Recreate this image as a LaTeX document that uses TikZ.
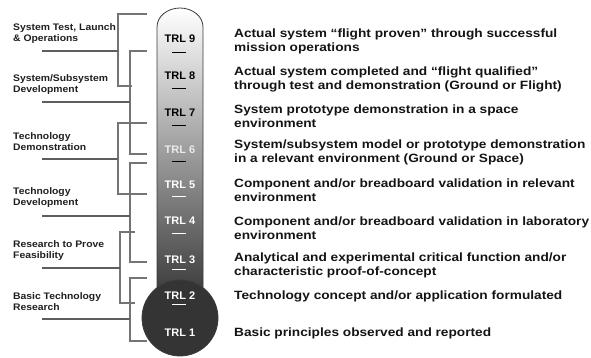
\documentclass[tikz,border=0pt]{standalone}
\usepackage{fontspec}
\setmainfont{Liberation Sans}
\newfontfamily\descfont[FakeStretch=1.14]{Liberation Sans}
\newfontfamily\phasefont[FakeStretch=1.09]{Liberation Sans}
\usepackage{xcolor}
\usepackage{tikz}
\usetikzlibrary{positioning, calc}
\definecolor{bracketgray}{HTML}{747474}
\definecolor{leadgray}{HTML}{5E5E5E}
\definecolor{bulbgray}{HTML}{343434}
\definecolor{rimgray}{HTML}{3C3C3C}
\tikzstyle{trl} = [inner sep=0pt, font=\fontsize{11}{13}\selectfont\bfseries]
\tikzstyle{desc} = [anchor=west, align=left, inner sep=0pt, text=black!92, font=\descfont\fontsize{12}{14}\selectfont\bfseries]
\tikzstyle{phase} = [anchor=west, align=left, inner sep=0pt, text=black!88, font=\phasefont\fontsize{9.5}{11}\selectfont\bfseries]
\tikzstyle{bracket} = [draw=bracketgray, line width=1.1pt]
\tikzstyle{lead} = [draw=leadgray, line width=2.2pt]
\tikzstyle{levelmark} = [line width=1pt]

\begin{document}
\begin{tikzpicture}[x=1pt, y=-1pt]
    \useasboundingbox (0,0) rectangle (591,358);

    % thermometer tube and bulb
    \draw [draw=rimgray, line width=0.8pt, top color=white, middle color=black!22, bottom color=black!78]
        (157,300) -- (157,27) arc[start angle=180, end angle=0, x radius=23pt, y radius=19pt] -- (203,300);
    \draw [draw=rimgray, line width=0.8pt, fill=bulbgray] (180,318) circle[radius=38pt];

    % TRL levels
    \node (trl9) [trl] at (180,39) {TRL 9};
    \node (trl8) [trl] at (180,76) {TRL 8};
    \node (trl7) [trl] at (180,113) {TRL 7};
    \node (trl6) [trl, text=black!8] at (180,150) {TRL 6};
    \node (trl5) [trl, text=white] at (180,185) {TRL 5};
    \node (trl4) [trl, text=white] at (180,221) {TRL 4};
    \node (trl3) [trl, text=white] at (180,260) {TRL 3};
    \node (trl2) [trl, text=white] at (180,296) {TRL 2};
    \node (trl1) [trl, text=white] at (180,333) {TRL 1};

    \draw [levelmark, black] (172,53) -- (186,53);
    \draw [levelmark, black] (172,89) -- (186,89);
    \draw [levelmark, black] (172,126) -- (186,126);
    \draw [levelmark, black] (172,162) -- (186,162);
    \draw [levelmark, white] (172,196) -- (186,196);
    \draw [levelmark, white] (172,233) -- (186,233);
    \draw [levelmark, white] (172,269) -- (186,269);
    \draw [levelmark, white] (172,304) -- (186,304);

    % descriptions
    \node (d9) [desc] at (234,41) {Actual system “flight proven” through successful\\mission operations};
    \node (d8) [desc] at (234,79) {Actual system completed and “flight qualified”\\through test and demonstration (Ground or Flight)};
    \node (d7) [desc] at (234,116) {System prototype demonstration in a space\\environment};
    \node (d6) [desc] at (234,152) {System/subsystem model or prototype demonstration\\in a relevant environment (Ground or Space)};
    \node (d5) [desc] at (234,190) {Component and/or breadboard validation in relevant\\environment};
    \node (d4) [desc] at (234,228) {Component and/or breadboard validation in laboratory\\environment};
    \node (d3) [desc] at (234,265) {Analytical and experimental critical function and/or\\characteristic proof-of-concept};
    \node (d2) [desc] at (234,296) {Technology concept and/or application formulated};
    \node (d1) [desc] at (234,333) {Basic principles observed and reported};

    % phases
    \node (ops) [phase] at (13,34) {System Test, Launch\\\& Operations};
    \node (sysdev) [phase] at (13,85) {System/Subsystem\\Development};
    \node (techdemo) [phase] at (13,141.5) {Technology\\Demonstration};
    \node (techdev) [phase] at (13,198) {Technology\\Development};
    \node (feas) [phase] at (13,250.5) {Research to Prove\\Feasibility};
    \node (basic) [phase] at (13,302) {Basic Technology\\Research};

    % brackets
    \draw [bracket] (147,14) -| (118,86) -- (132,86);
    \draw [lead] (42,51) -- (118,51);
    \draw [bracket] (147,51) -| (130,154) -- (147,154);
    \draw [lead] (42,102) -- (130,102);
    \draw [bracket] (147,123) -| (118,194) -- (147,194);
    \draw [lead] (42,159) -- (118,159);
    \draw [bracket] (147,163) -| (130,262) -- (147,262);
    \draw [lead] (42,216) -- (130,216);
    \draw [bracket] (135,232) -| (120,303) -- (135,303);
    \draw [lead] (42,268) -- (120,268);
    \draw [bracket] (147,278) -| (130,341) -- (147,341);
    \draw [lead] (42,319) -- (130,319);
\end{tikzpicture}
\end{document}
